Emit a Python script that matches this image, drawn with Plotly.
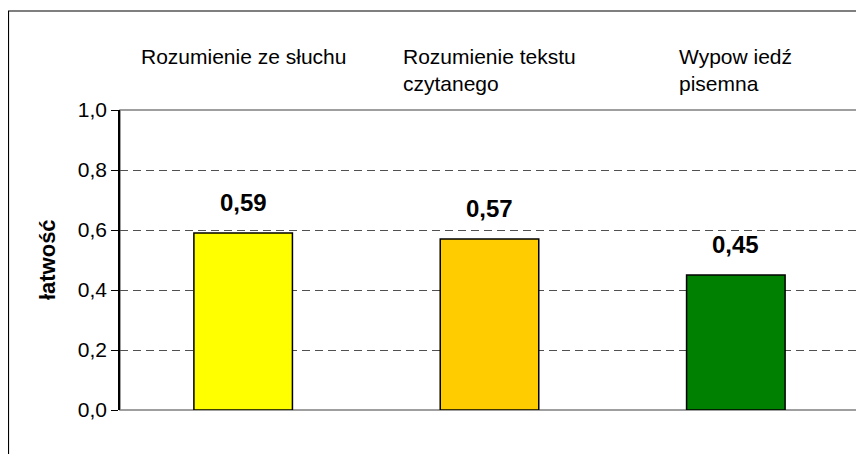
import plotly.graph_objects as go

categories = ["Rozumienie ze słuchu", "Rozumienie tekstu<br>czytanego", "Wypow iedź<br>pisemna"]
values = [0.59, 0.57, 0.45]
value_labels = ["0,59", "0,57", "0,45"]
colors = ["#FFFF00", "#FFCC00", "#008000"]
y_title = "łatwość"
y_ticks = [0.0, 0.2, 0.4, 0.6, 0.8, 1.0]

FONT = "Liberation Sans, Arial, sans-serif"
xs = list(range(len(categories)))

fig = go.Figure()
fig.add_trace(go.Bar(
    x=xs, y=values,
    marker=dict(color=colors, line=dict(color="black", width=1.5)),
    width=0.4, hoverinfo="skip", showlegend=False,
))

annotations = []
for x, v, lab in zip(xs, values, value_labels):
    annotations.append(dict(
        x=x, y=v, xref="x", yref="y", text=f"<b>{lab}</b>", showarrow=False,
        yanchor="bottom", yshift=15, font=dict(family=FONT, size=24, color="black"),
    ))
for x, c in zip(xs, categories):
    annotations.append(dict(
        x=x, y=1.223, xref="x", yref="paper", text=c, showarrow=False,
        yanchor="top", align="left", font=dict(family=FONT, size=21, color="black"),
    ))
annotations.append(dict(
    x=-0.0988, y=0.503, xref="paper", yref="paper", text=f"<b>{y_title}</b>",
    xanchor="center", yanchor="middle",
    showarrow=False, textangle=-90, font=dict(family=FONT, size=22, color="black"),
))

fig.update_layout(
    width=856, height=446,
    margin=dict(l=112, r=5, t=102, b=44),
    paper_bgcolor="white", plot_bgcolor="white",
    separators=", ",
    font=dict(family=FONT, color="black"),
    annotations=annotations,
    shapes=[
        dict(type="rect", xref="paper", yref="paper", x0=0, x1=1, y0=0, y1=1,
             line=dict(color="#808080", width=1.5), layer="below"),
        dict(type="rect", xref="paper", yref="paper", x0=-0.1509, x1=1.03, y0=-0.2, y1=1.33,
             line=dict(color="black", width=1.2), layer="below"),
    ],
    xaxis=dict(range=[-0.5, 2.5], showticklabels=False, showgrid=False, zeroline=False,
               showline=False, fixedrange=True),
    yaxis=dict(range=[0, 1.0], tickvals=y_ticks, tickformat=".1f",
               showgrid=True, gridcolor="#505050", griddash="8px,5px", gridwidth=1,
               zeroline=False, showline=True, linecolor="black", linewidth=1.5,
               ticks="outside", ticklen=7, tickcolor="black",
               tickfont=dict(family=FONT, size=21, color="black")),
)

fig.write_html("out.html")
